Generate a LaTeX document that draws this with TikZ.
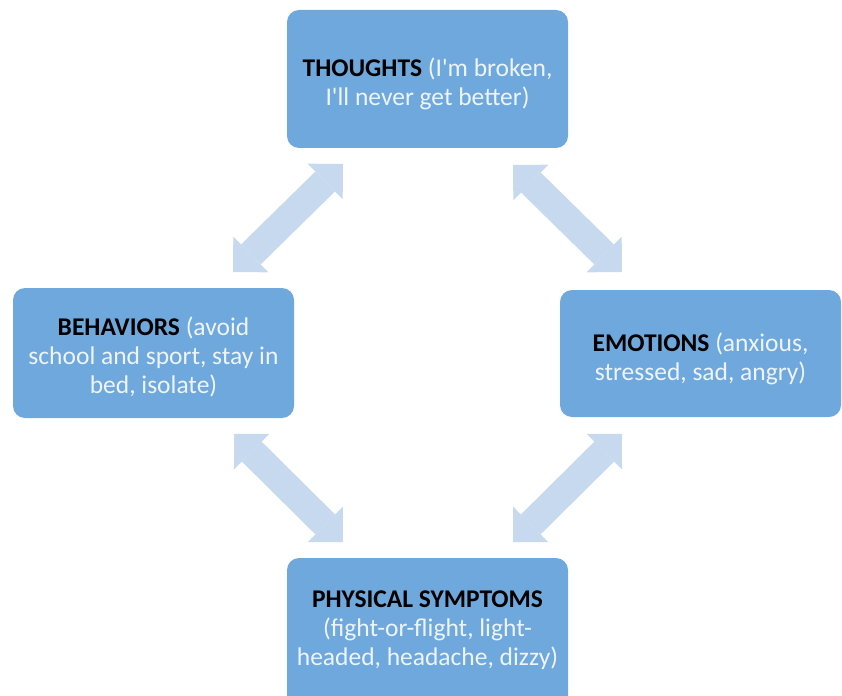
\documentclass[tikz,border=0pt]{standalone}
\usepackage{fontspec}
\setmainfont{Carlito}[Ligatures=TeXOff]
\usetikzlibrary{arrows.meta}
\definecolor{boxblue}{HTML}{6FA8DC}
\definecolor{arrowblue}{HTML}{C6D9EF}
\definecolor{txtwhite}{HTML}{EEF4FB}
\tikzset{
  box/.style={rectangle, rounded corners=12pt, fill=boxblue, draw=none,
    minimum width=281pt, inner sep=0pt},
  boxtext/.style={align=center, text=txtwhite, inner sep=0pt,
    font=\fontsize{25.5}{29}\selectfont},
  dblarrow/.style={arrowblue, line width=28pt,
    {Triangle[width=50pt,length=25pt,line width=0pt]}-{Triangle[width=50pt,length=25pt,line width=0pt]}}
}
\newcommand{\ttlb}[1]{\textcolor{black}{\textbf{#1}}}
\begin{document}
\begin{tikzpicture}[x=1pt,y=-1pt]
\useasboundingbox (0,0) rectangle (842,695);
\clip (0,0) rectangle (842,695);
\node[box, minimum height=138pt] (thoughts) at (427.5,79) {};
\node[box, minimum height=130pt] (behav) at (153.5,353) {};
\node[box, minimum height=127pt] (emot) at (700.5,353.5) {};
\node[box, minimum height=150pt] (phys) at (427.5,633) {};
\node[boxtext] (thoughtsT) at (427.5,84)
  {\ttlb{THOUGHTS} (I'm broken,\\ I'll never get better)};
\node[boxtext] (behavT) at (153.5,357)
  {\ttlb{BEHAVIORS} (avoid\\ school and sport, stay in\\ bed, isolate)};
\node[boxtext] (emotT) at (700.5,358.5)
  {\ttlb{EMOTIONS} (anxious,\\ stressed, sad, angry)};
\node[boxtext] (physT) at (427.5,630)
  {\ttlb{PHYSICAL SYMPTOMS}\\ (fight-or-flight, light-\\ headed, headache, dizzy)};
\coordinate (a1s) at (343,164); \coordinate (a1e) at (233,272);
\coordinate (a2s) at (513,165); \coordinate (a2e) at (622,272);
\coordinate (a3s) at (234,434); \coordinate (a3e) at (343,542);
\coordinate (a4s) at (622,434); \coordinate (a4e) at (513,542);
\draw[dblarrow] (a1s) -- (a1e);
\draw[dblarrow] (a2s) -- (a2e);
\draw[dblarrow] (a3s) -- (a3e);
\draw[dblarrow] (a4s) -- (a4e);
\end{tikzpicture}
\end{document}
